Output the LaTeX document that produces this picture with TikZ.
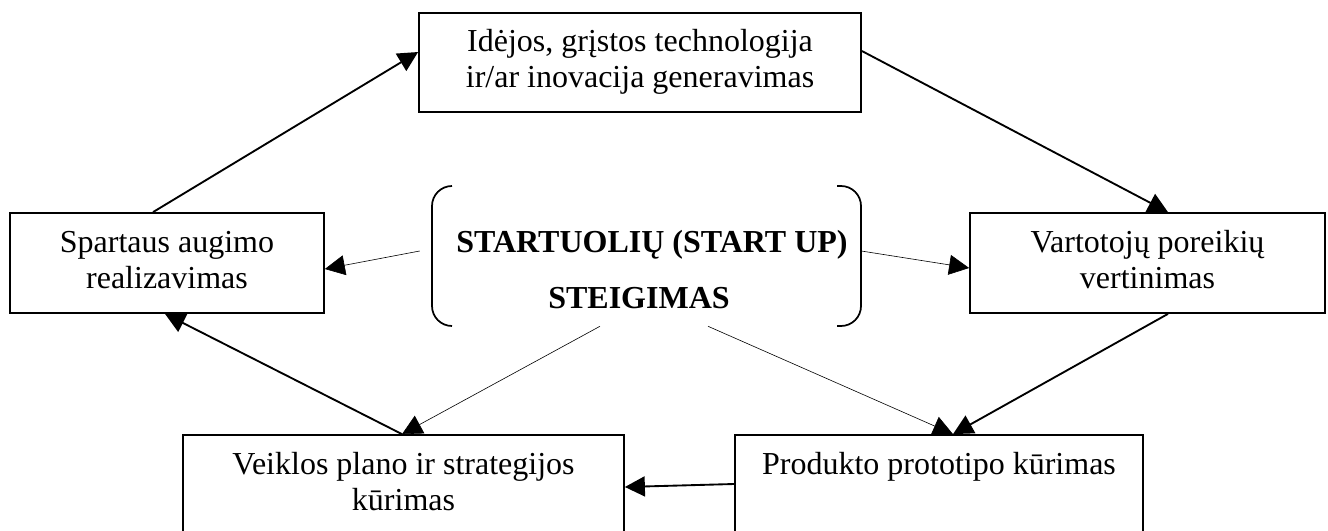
\documentclass[tikz,border=0pt]{standalone}
\usepackage{fontspec}
\setmainfont{Liberation Serif}
\usetikzlibrary{arrows.meta,calc}
\begin{document}
\begin{tikzpicture}[x=0.75pt,y=-0.75pt,
  box/.style={draw, line width=1.3pt, rectangle, inner sep=0pt, align=center,
    font=\fontsize{24}{27}\selectfont},
  twoline/.style={text height=43.5pt, text depth=5.25pt},
  oneline/.style={text height=16.5pt, text depth=32.25pt},
  thickarrow/.style={line width=1.4pt, -{Triangle[length=15pt,width=15pt]}},
  thinarrow/.style={line width=0.45pt, -{Triangle[length=15pt,width=15pt]}},
  bracketline/.style={line width=1.3pt, rounded corners=15pt}]
\clip (0,0) rectangle (1328,531);
\node[box, twoline, minimum width=331.5pt, minimum height=74.25pt] (nt) at (640,62.5) {Idėjos, grįstos technologija\\ir/ar inovacija generavimas};
\node[box, twoline, minimum width=235.5pt, minimum height=75pt] (nl) at (167,263) {Spartaus augimo\\realizavimas};
\node[box, twoline, minimum width=266.25pt, minimum height=75pt] (nr) at (1147.5,263) {Vartotojų poreikių\\vertinimas};
\node[box, twoline, minimum width=330.75pt, minimum height=75pt] (bl) at (403.5,485) {Veiklos plano ir strategijos\\kūrimas};
\node[box, oneline, minimum width=306pt, minimum height=75pt] (br) at (939,485) {Produkto prototipo kūrimas};
\node[inner sep=0pt, minimum width=330.75pt, minimum height=105pt, align=center,
  font=\bfseries\fontsize{24}{42}\selectfont, text height=78pt, text depth=0pt] (c) at (640.5,256)
  {\hspace*{17.25pt}STARTUOLIŲ (START UP)\\STEIGIMAS\hspace*{2.25pt}};
\draw[bracketline] (452,186) -| (432,326) -- (452,326);
\draw[bracketline] (837,186) -| (861,326) -- (837,326);
% thick cycle
\draw[thickarrow] ($(nl.north)+(-14,0)$) -- ($(nt.west)+(0,-10.5)$);
\draw[thickarrow] ($(nt.east)+(0,-11.5)$) -- ($(nr.north)+(20.5,0)$);
\draw[thickarrow] ($(nr.south)+(20.5,0)$) -- ($(br.north)+(14,0)$);
\draw[thickarrow] ($(br.west)+(0,-1)$) -- ($(bl.east)+(0,2)$);
\draw[thickarrow] ($(bl.north)+(-1.5,0)$) -- ($(nl.south)+(-2,0)$);
% thin spokes
\draw[thinarrow] ($(c.west)+(0,-5)$) -- ($(nl.east)+(0,6)$);
\draw[thinarrow] ($(c.east)+(0,-5)$) -- ($(nr.west)+(0,5)$);
\draw[thinarrow] ($(c.south)+(-40.5,0)$) -- ($(bl.north)+(-1.5,0)$);
\draw[thinarrow] ($(c.south)+(67.5,0)$) -- ($(br.north)+(14,0)$);
\end{tikzpicture}
\end{document}
